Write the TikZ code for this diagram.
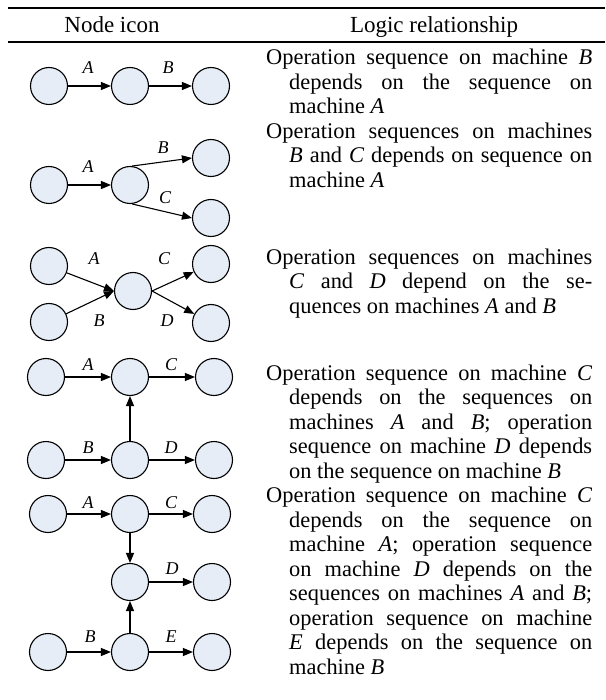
\documentclass[tikz,border=0pt]{standalone}
\usepackage{fontspec}
\setmainfont{Liberation Serif}
\usetikzlibrary{arrows.meta}
\definecolor{nodefill}{RGB}{230,237,247}
\newcommand{\hangpar}[1]{\parbox[t]{326pt}{\hyphenpenalty=10000\tolerance=10000\hangindent=23pt\hangafter=1\relax #1}}
\begin{document}
\begin{tikzpicture}[x=1pt,y=-1pt,
  circ/.style={circle, draw, line width=1.1pt, fill=nodefill, minimum size=37pt, inner sep=0pt},
  arr/.style={-{Triangle[length=10pt,width=8pt]}, line width=1.1pt},
  lab/.style={font=\fontsize{18}{18}\selectfont\itshape, inner sep=0pt},
  head/.style={anchor=base, inner sep=0pt, font=\fontsize{23}{24}\selectfont},
  txt/.style={anchor=base west, inner sep=0pt, font=\fontsize{22.4}{24.5}\selectfont},
  rule/.style={line width=2pt}]
\useasboundingbox (0,0) rectangle (605,700);
% rules
\draw[rule] (8,8) -- (605,8);
\draw[rule] (8,42) -- (605,42);
% header
\node[head] (h1) at (112,33) {Node icon};
\node[head] (h2) at (434,33) {Logic relationship};

% row 1
\node[circ] (a1) at (49,86) {};
\node[circ] (a2) at (130,86) {};
\node[circ] (a3) at (211,86) {};
\draw[arr] (a1) -- (a2);
\draw[arr] (a2) -- (a3);
\node[lab] (la1) at (88,68) {A};
\node[lab] (la2) at (168,68) {B};

% row 2
\node[circ] (b1) at (49,185) {};
\node[circ] (b2) at (130,185) {};
\node[circ] (b3) at (211,158) {};
\node[circ] (b4) at (211,218) {};
\draw[arr] (b1) -- (b2);
\draw[arr] (b2.84) -- (b3.west);
\draw[arr] (b2.-84) -- (b4.west);
\node[lab] (lb1) at (88,167) {A};
\node[lab] (lb2) at (163,148) {B};
\node[lab] (lb3) at (165,198) {C};

% row 3
\node[circ] (c1) at (49,266) {};
\node[circ] (c2) at (49,322) {};
\node[circ] (c3) at (133,291) {};
\node[circ] (c4) at (211,264) {};
\node[circ] (c5) at (211,323) {};
\draw[arr] (c1) -- (c3.west);
\draw[arr] (c2) -- (c3.west);
\draw[arr] (c3.east) -- (c4);
\draw[arr] (c3.east) -- (c5);
\node[lab] (lc1) at (94,259) {A};
\node[lab] (lc2) at (99,321) {B};
\node[lab] (lc3) at (164,259) {C};
\node[lab] (lc4) at (167,321) {D};

% row 4
\node[circ] (d1) at (46,377) {};
\node[circ] (d2) at (130,377) {};
\node[circ] (d3) at (214,377) {};
\node[circ] (d4) at (46,460) {};
\node[circ] (d5) at (130,460) {};
\node[circ] (d6) at (214,460) {};
\draw[arr] (d1) -- (d2);
\draw[arr] (d2) -- (d3);
\draw[arr] (d4) -- (d5);
\draw[arr] (d5) -- (d6);
\draw[arr] (d5) -- (d2);
\node[lab] (ld1) at (88,365) {A};
\node[lab] (ld2) at (171,365) {C};
\node[lab] (ld3) at (88,448) {B};
\node[lab] (ld4) at (171,448) {D};

% row 5
\node[circ] (e1) at (48,514) {};
\node[circ] (e2) at (130,514) {};
\node[circ] (e3) at (212,514) {};
\node[circ] (e4) at (130,582) {};
\node[circ] (e5) at (212,582) {};
\node[circ] (e6) at (48,652) {};
\node[circ] (e7) at (130,652) {};
\node[circ] (e8) at (212,652) {};
\draw[arr] (e1) -- (e2);
\draw[arr] (e2) -- (e3);
\draw[arr] (e2) -- (e4);
\draw[arr] (e4) -- (e5);
\draw[arr] (e7) -- (e4);
\draw[arr] (e6) -- (e7);
\draw[arr] (e7) -- (e8);
\node[lab] (le1) at (88,503) {A};
\node[lab] (le2) at (171,503) {C};
\node[lab] (le3) at (172,569) {D};
\node[lab] (le4) at (90,637) {B};
\node[lab] (le5) at (171,637) {E};

% text column
\node[txt] (t1) at (266,65) {\hangpar{%
Operation sequence on machine \textit{B}\linebreak depends on the sequence on\linebreak machine \textit{A}}};
\node[txt] (t2) at (266,138.5) {\hangpar{%
Operation sequences on machines\linebreak \textit{B} and \textit{C} depends on sequence on\linebreak machine \textit{A}}};
\node[txt] (t3) at (266,264) {\hangpar{%
Operation sequences on machines\linebreak \textit{C} and \textit{D} depend on the se-\linebreak quences on machines \textit{A} and \textit{B}}};
\node[txt] (t4) at (266,380) {\hangpar{%
Operation sequence on machine \textit{C}\linebreak depends on the sequences on\linebreak machines \textit{A} and \textit{B}; operation\linebreak sequence on machine \textit{D} depends\linebreak on the sequence on machine \textit{B}}};
\node[txt] (t5) at (266,502.5) {\hangpar{%
Operation sequence on machine \textit{C}\linebreak depends on the sequence on\linebreak machine \textit{A}; operation sequence\linebreak on machine \textit{D} depends on the\linebreak sequences on machines \textit{A} and \textit{B};\linebreak operation sequence on machine\linebreak \textit{E} depends on the sequence on\linebreak machine \textit{B}}};
\end{tikzpicture}
\end{document}
